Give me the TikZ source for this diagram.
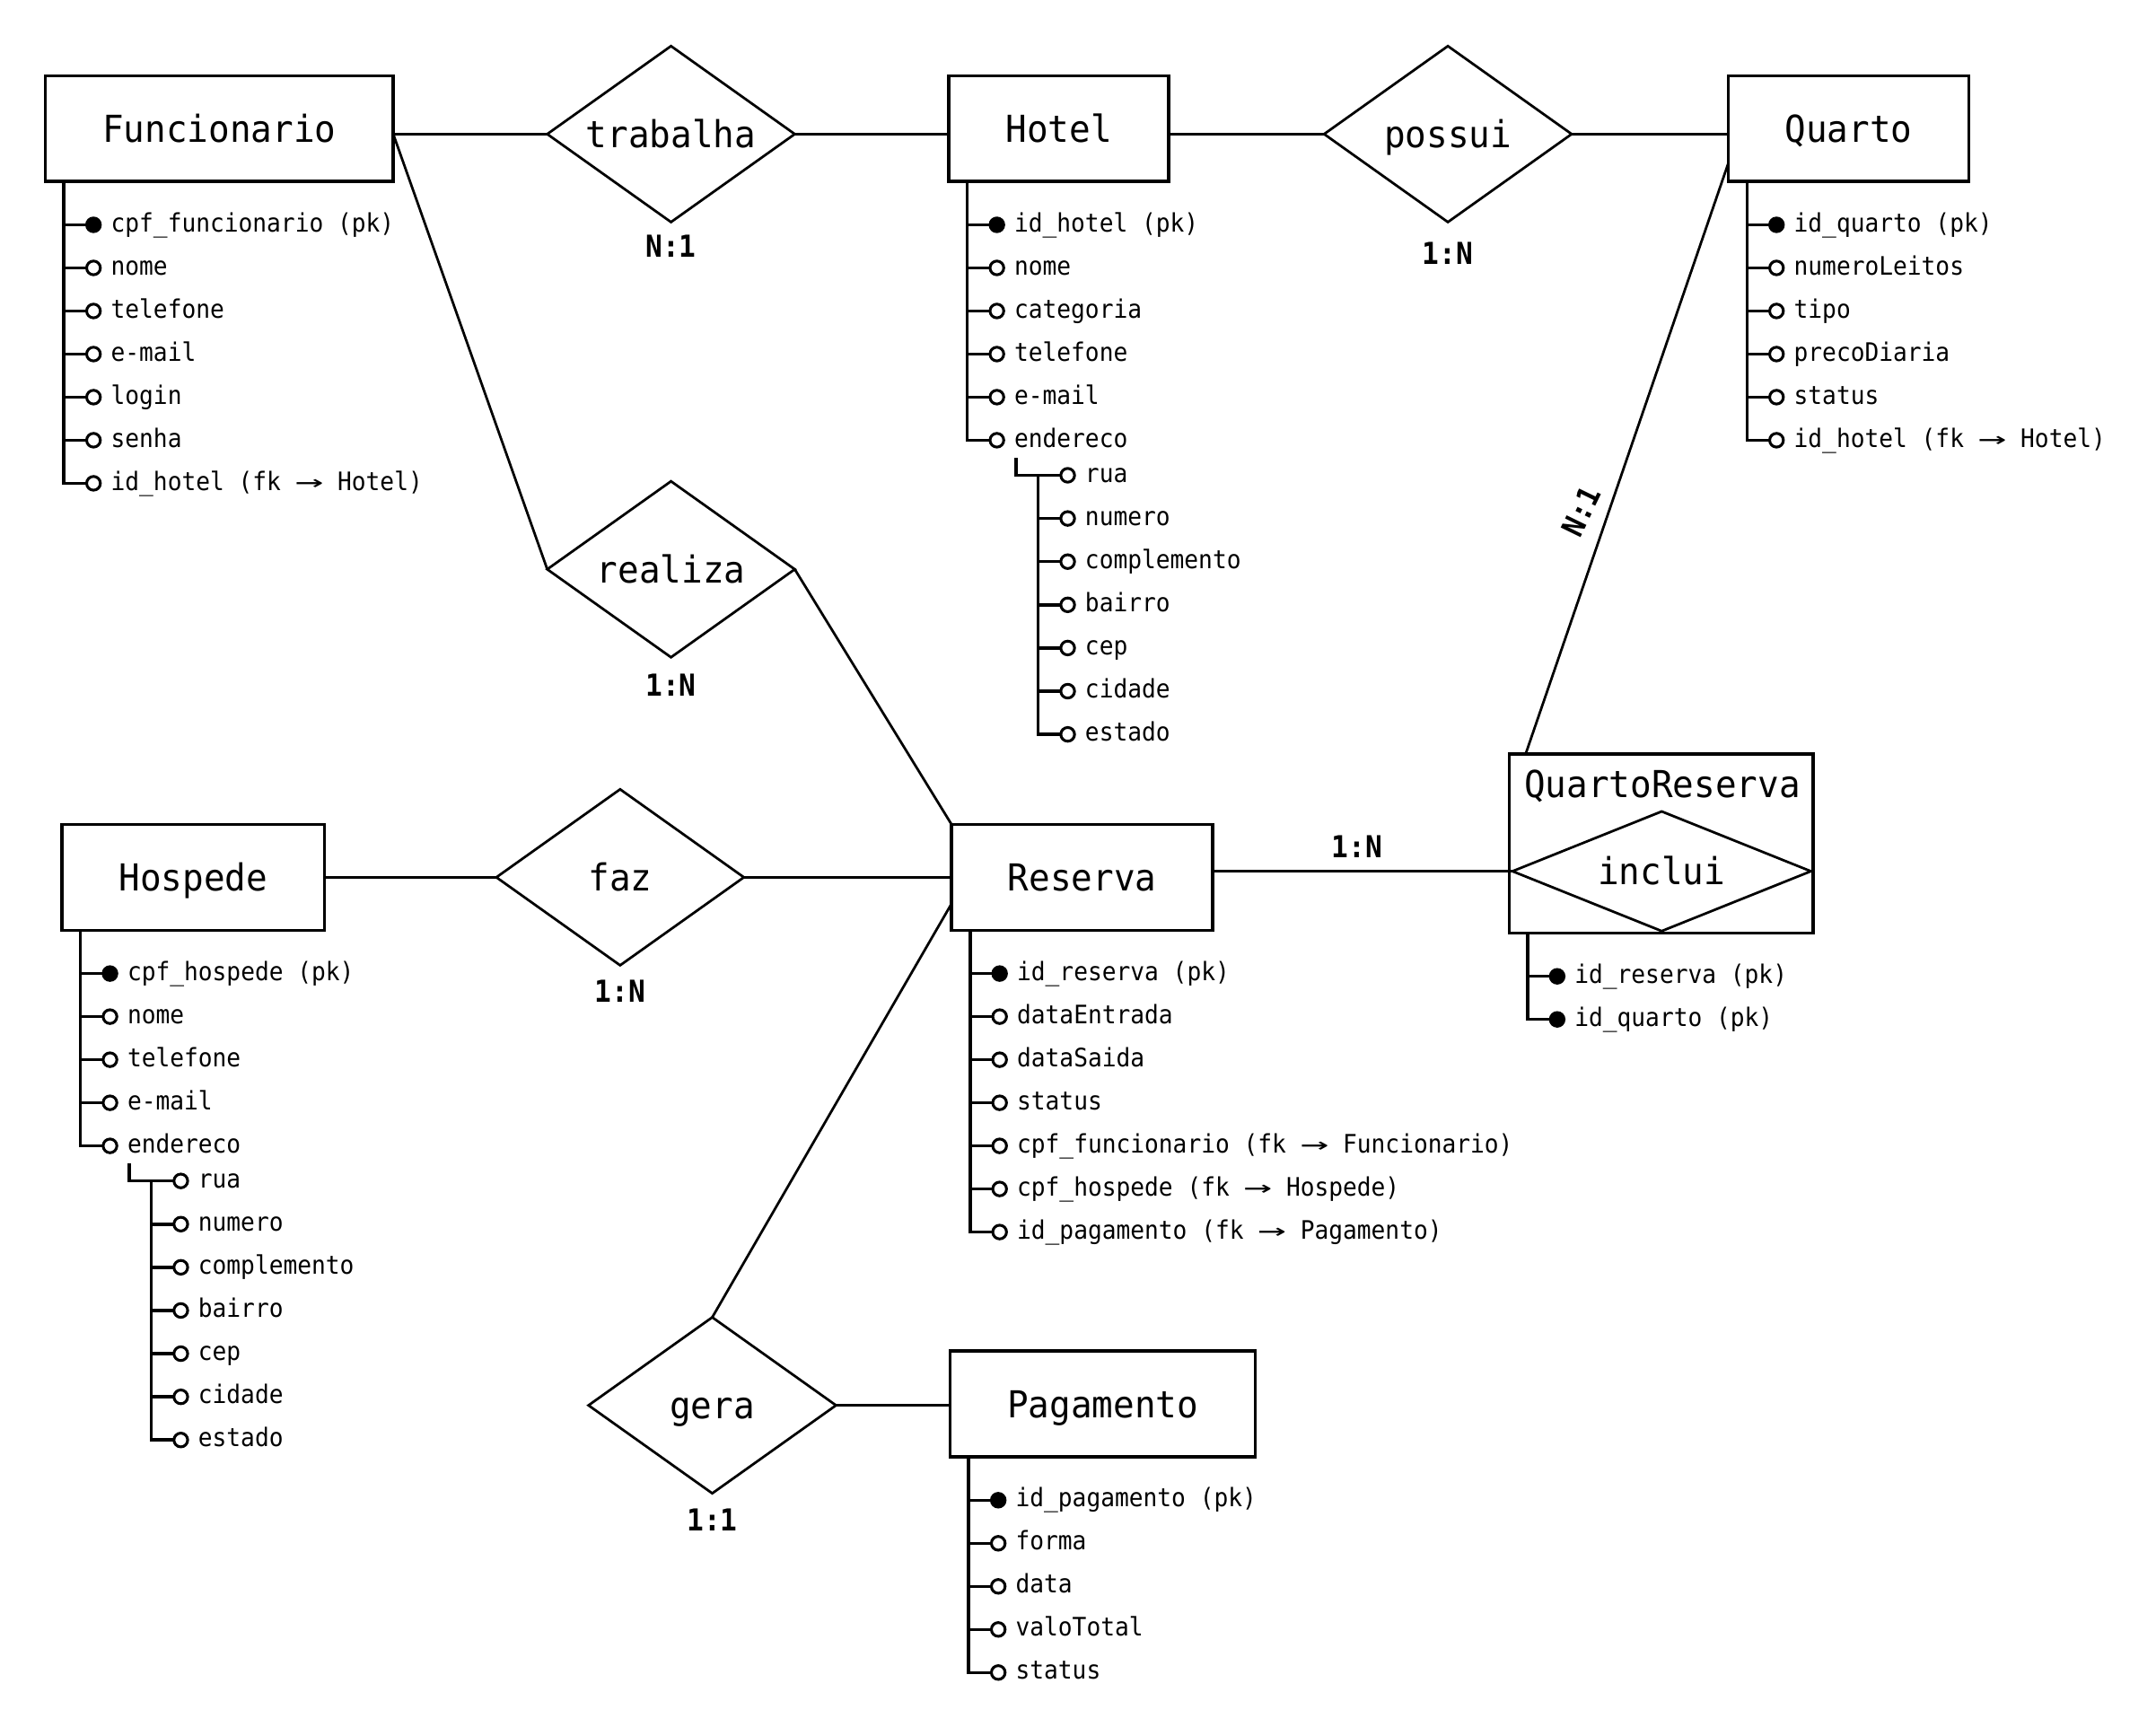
\documentclass[tikz,border=0pt]{standalone}
\usepackage{fontspec}
\usepackage{graphicx}
\usetikzlibrary{shapes.geometric,calc}
\newfontfamily\erTitle[FakeStretch=0.95]{DejaVu Sans Mono}
\newfontfamily\erAttr[FakeStretch=0.925]{DejaVu Sans Mono}
% long arrow for foreign keys, two character cells wide
\newcommand\fkto{\makebox[1.114em]{\scalebox{2}[1]{→}}}

% attribute list hanging under an entity box: #1 entity node, #2 list of dotstyle/text
\newcommand\attrtree[2]{%
  \coordinate (#1-t) at ($(#1.south west)+(13.5,0)$);
  \foreach \st/\tx [count=\i] in {#2} {
    \node[\st] (#1-c\i) at ($(#1-t)+(21.5,{31.5+(\i-1)*31.33})$) {};
    \draw[tree] (#1-t) |- (#1-c\i.west);
    \node[attr] (#1-l\i) at ($(#1-c\i)+(12.5,5)$) {\tx};
  }
}
% nested attribute list under a composite attribute: #1 prefix, #2 parent dot, #3 texts
\newcommand\subtree[3]{%
  \coordinate (#1-k) at ($(#2)+(14,13)$);
  \coordinate (#1-t) at ($(#1-k)+(16,12.5)$);
  \foreach \tx [count=\i] in {#3} {
    \node[attdot] (#1-c\i) at ($(#1-t)+(21.5,{(\i-1)*31.4})$) {};
    \ifnum\i=1
      \draw[tree] (#1-k) |- (#1-c\i.west);
    \else
      \draw[tree] (#1-t) |- (#1-c\i.west);
    \fi
    \node[attr] (#1-l\i) at ($(#1-c\i)+(12.5,5)$) {\tx};
  }
}

\begin{document}
\begin{tikzpicture}[x=1pt,y=-1pt,
  entity/.style={draw, rectangle, line width=2.3pt, inner sep=0pt, outer sep=0pt,
    minimum height=77pt, font=\erTitle\fontsize{27}{30}\selectfont,
    text height=19.7pt, text depth=0pt},
  relship/.style={draw, diamond, aspect=1.4, line width=1.8pt, inner sep=0pt, outer sep=0pt,
    minimum width=180pt, minimum height=128pt, font=\erTitle\fontsize{27}{30}\selectfont,
    text height=19.7pt, text depth=0pt},
  link/.style={line width=1.8pt},
  tree/.style={line width=2.3pt},
  card/.style={font=\erAttr\bfseries\fontsize{22}{24}\selectfont, inner sep=0pt},
  attr/.style={anchor=base west, inner sep=0pt, font=\erAttr\fontsize{18.5}{20}\selectfont},
  keydot/.style={circle, draw, fill=black, line width=2pt, minimum size=10pt, inner sep=0pt, outer sep=0pt},
  attdot/.style={circle, draw, fill=white, line width=2pt, minimum size=10pt, inner sep=0pt, outer sep=0pt},
]
\useasboundingbox (0,0) rectangle (1568,1262);
\fill[white] (0,0) rectangle (1568,1262);

% entities
\node[entity, minimum width=253pt] (func) at (159.5,93.5) {Funcionario};
\node[entity, minimum width=160pt] (hotel) at (770,93.5) {Hotel};
\node[entity, minimum width=175pt] (quarto) at (1344.5,93.5) {Quarto};
\node[entity, minimum width=191pt] (hospede) at (140.5,638) {Hospede};
\node[entity, minimum width=190pt] (reserva) at (787,638) {Reserva};
\node[entity, minimum width=222pt] (pag) at (802,1021) {Pagamento};

% associative entity with its relationship inside
\node[entity, minimum width=221pt, minimum height=130pt] (qr) at (1208,613.5) {};
\node[font=\erTitle\fontsize{27}{30}\selectfont, inner sep=0pt, text height=19.7pt, text depth=0pt]
  (qrtitle) at (1209,570) {QuartoReserva};
\node[relship, aspect=2.5, minimum width=217pt, minimum height=87pt] (inclui) at (1208.5,633.6) {inclui};

% relationships
\node[relship] (trabalha) at (488,97.5) {trabalha};
\node[relship] (possui) at (1053,97.5) {possui};
\node[relship] (realiza) at (488,414) {realiza};
\node[relship] (faz) at (451,638) {faz};
\node[relship] (gera) at (518,1022) {gera};

% connectors
\draw[link] (func.east |- trabalha.west) -- (trabalha.west);
\draw[link] (trabalha.east) -- (trabalha.east -| hotel.west);
\draw[link] (hotel.east |- possui.west) -- (possui.west);
\draw[link] (possui.east) -- (possui.east -| quarto.west);
\draw[link] (func.east |- trabalha.west) -- (realiza.west);
\draw[link] (realiza.east) -- (reserva.north west);
\draw[link] (hospede.east |- faz.west) -- (faz.west);
\draw[link] (faz.east) -- (faz.east -| reserva.west);
\coordinate (reserva-g) at ($(reserva.west)!0.5!(reserva.south west)$);
\draw[link] (gera.north) -- (reserva-g);
\draw[link] (gera.east) -- (gera.east -| pag.west);
\draw[link] (reserva.east |- inclui.west) -- (inclui.west);
\coordinate (quarto-q) at ($(quarto.south west)!0.175!(quarto.north west)$);
\coordinate (qr-q) at ($(qr.north west)+(12,0)$);
\draw[link] (quarto-q) -- (qr-q);

% cardinalities
\node[card] (card-trabalha) at (488,179) {N:1};
\node[card] (card-possui) at (1053,184) {1:N};
\node[card] (card-realiza) at (488,498) {1:N};
\node[card] (card-faz) at (451,721) {1:N};
\node[card] (card-gera) at (518,1105) {1:1};
\node[card] (card-inclui) at (987,616) {1:N};
\node[card, rotate=64] (card-quarto) at (1150,372) {N:1};

% attributes
\attrtree{func}{keydot/cpf\_funcionario (pk), attdot/nome, attdot/telefone, attdot/e-mail,
  attdot/login, attdot/senha, attdot/id\_hotel (fk \fkto{} Hotel)}
\attrtree{hotel}{keydot/id\_hotel (pk), attdot/nome, attdot/categoria, attdot/telefone,
  attdot/e-mail, attdot/endereco}
\subtree{hotel-e}{hotel-c6}{rua, numero, complemento, bairro, cep, cidade, estado}
\attrtree{quarto}{keydot/id\_quarto (pk), attdot/numeroLeitos, attdot/tipo, attdot/precoDiaria,
  attdot/status, attdot/id\_hotel (fk \fkto{} Hotel)}
\attrtree{hospede}{keydot/cpf\_hospede (pk), attdot/nome, attdot/telefone, attdot/e-mail,
  attdot/endereco}
\subtree{hospede-e}{hospede-c5}{rua, numero, complemento, bairro, cep, cidade, estado}
\attrtree{reserva}{keydot/id\_reserva (pk), attdot/dataEntrada, attdot/dataSaida, attdot/status,
  attdot/cpf\_funcionario (fk \fkto{} Funcionario), attdot/cpf\_hospede (fk \fkto{} Hospede),
  attdot/id\_pagamento (fk \fkto{} Pagamento)}
\attrtree{qr}{keydot/id\_reserva (pk), keydot/id\_quarto (pk)}
\attrtree{pag}{keydot/id\_pagamento (pk), attdot/forma, attdot/data, attdot/valoTotal,
  attdot/status}
\end{tikzpicture}
\end{document}
